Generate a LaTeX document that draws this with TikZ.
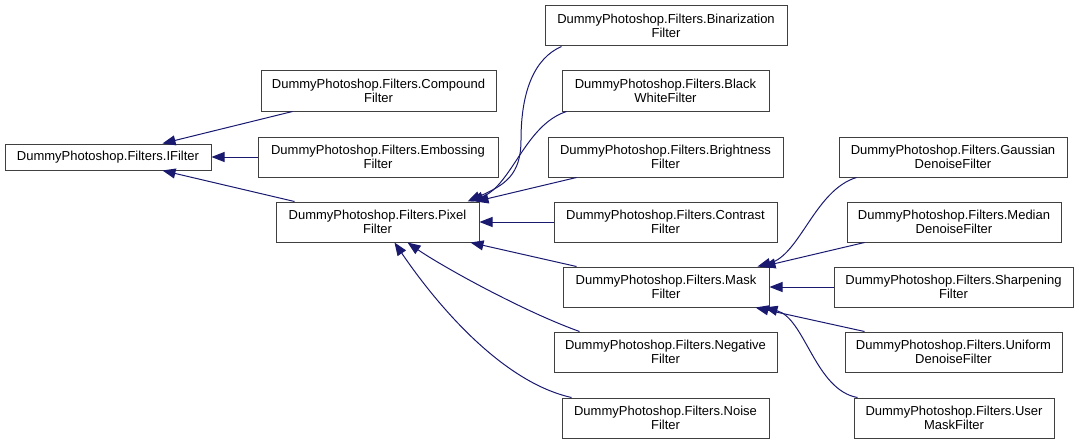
\documentclass[tikz,border=0pt]{standalone}
\usepackage{fontspec}
\setmainfont{Liberation Sans}
\usetikzlibrary{arrows.meta,calc}
\definecolor{edgecol}{HTML}{191970}
\definecolor{boxcol}{HTML}{404040}
\tikzset{
  box/.style={draw=boxcol, line width=1pt, fill=white, align=center, inner xsep=2pt, inner ysep=0pt,
    font=\fontsize{13}{14.5}\selectfont, text=black},
  edge/.style={draw=edgecol, line width=1pt, >={Triangle[length=13pt,width=10pt]}, <-},
}
\begin{document}
\begin{tikzpicture}[x=1pt,y=-1pt]
\useasboundingbox (0,0) rectangle (1079,444);
% column 1
\node[box, minimum width=206pt, minimum height=26pt] (ifilter) at (108,157) {DummyPhotoshop.Filters.IFilter};
% column 2
\node[box, minimum width=235pt, minimum height=40pt] (compound) at (378.5,91) {DummyPhotoshop.Filters.Compound\\Filter};
\node[box, minimum width=240pt, minimum height=40pt] (embossing) at (378,157) {DummyPhotoshop.Filters.Embossing\\Filter};
\node[box, minimum width=203pt, minimum height=40pt] (pixel) at (377.5,222) {DummyPhotoshop.Filters.Pixel\\Filter};
% column 3
\node[box, minimum width=242pt, minimum height=40pt] (binarization) at (666,26) {DummyPhotoshop.Filters.Binarization\\Filter};
\node[box, minimum width=207pt, minimum height=40pt] (blackwhite) at (665.5,91) {DummyPhotoshop.Filters.Black\\WhiteFilter};
\node[box, minimum width=235pt, minimum height=40pt] (brightness) at (665.5,157) {DummyPhotoshop.Filters.Brightness\\Filter};
\node[box, minimum width=223pt, minimum height=40pt] (contrast) at (665.5,222) {DummyPhotoshop.Filters.Contrast\\Filter};
\node[box, minimum width=206pt, minimum height=40pt] (mask) at (666,287) {DummyPhotoshop.Filters.Mask\\Filter};
\node[box, minimum width=223pt, minimum height=40pt] (negative) at (665.5,352) {DummyPhotoshop.Filters.Negative\\Filter};
\node[box, minimum width=207pt, minimum height=40pt] (noise) at (665.5,418) {DummyPhotoshop.Filters.Noise\\Filter};
% column 4
\node[box, minimum width=228pt, minimum height=40pt] (gaussian) at (953,157) {DummyPhotoshop.Filters.Gaussian\\DenoiseFilter};
\node[box, minimum width=214pt, minimum height=40pt] (median) at (954,222) {DummyPhotoshop.Filters.Median\\DenoiseFilter};
\node[box, minimum width=239pt, minimum height=40pt] (sharpening) at (953.5,287) {DummyPhotoshop.Filters.Sharpening\\Filter};
\node[box, minimum width=217pt, minimum height=40pt] (uniform) at (953.5,352) {DummyPhotoshop.Filters.Uniform\\DenoiseFilter};
\node[box, minimum width=200pt, minimum height=40pt] (usermask) at (954,418) {DummyPhotoshop.Filters.User\\MaskFilter};

% edges to IFilter
\draw[edge] ($(ifilter.north west)+(158,0)$) -- ($(compound.south west)+(32,0)$);
\draw[edge] (ifilter.east) -- (embossing.west);
\draw[edge] ($(ifilter.south west)+(158,0)$) -- ($(pixel.north west)+(19,0)$);
% edges to Pixel
\draw[edge] ($(pixel.north east)+(-12,0)$) .. controls (505,185) and (521,175) .. (521,140)
  .. controls (521,90) and (535,58) .. ($(binarization.south west)+(17,0)$);
\draw[edge] ($(pixel.north east)+(-9,0)$) .. controls (512,185) and (525,125) .. ($(blackwhite.south west)+(5,0)$);
\draw[edge] ($(pixel.north east)+(-4,0)$) -- ($(brightness.south west)+(29,0)$);
\draw[edge] (pixel.east) -- (contrast.west);
\draw[edge] ($(pixel.south east)+(-9,0)$) -- ($(mask.north west)+(14,0)$);
\draw[edge] ($(pixel.south west)+(132,0)$) .. controls (440,265) and (520,310) .. ($(negative.north west)+(26,0)$);
\draw[edge] ($(pixel.south west)+(119,0)$) .. controls (437,305) and (502,382) .. ($(noise.north west)+(10,0)$);
% edges to Mask
\draw[edge] ($(mask.north east)+(-12,0)$) .. controls (800,255) and (815,190) .. ($(gaussian.south west)+(18,0)$);
\draw[edge] ($(mask.north east)+(-7,0)$) -- ($(median.south west)+(18,0)$);
\draw[edge] (mask.east) -- (sharpening.west);
\draw[edge] ($(mask.south east)+(-14,0)$) -- ($(uniform.north west)+(20,0)$);
\draw[edge] ($(mask.south east)+(-5,0)$) .. controls (805,318) and (815,390) .. ($(usermask.north west)+(4,0)$);
\end{tikzpicture}
\end{document}
